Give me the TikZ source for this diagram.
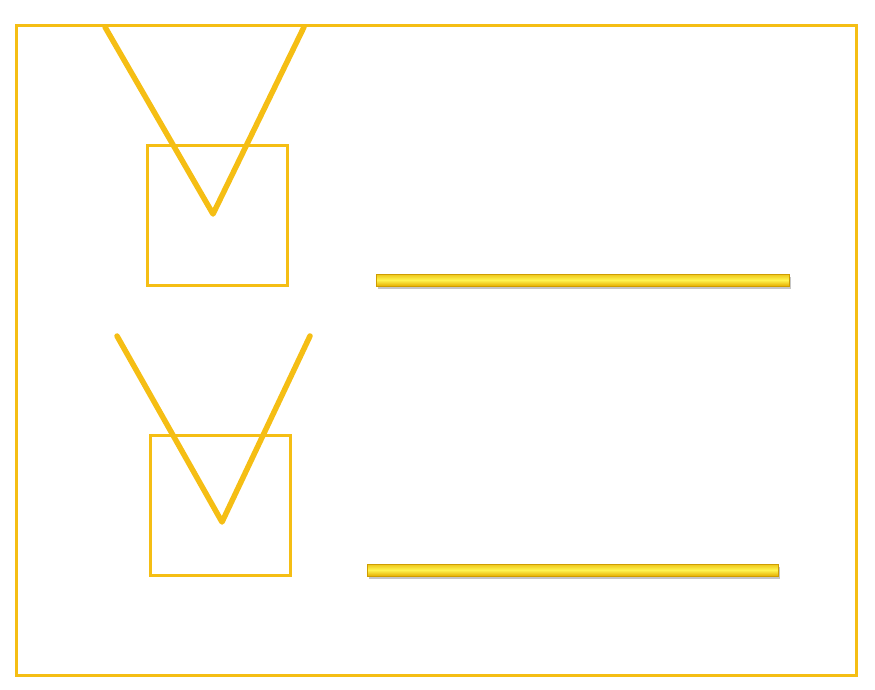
\documentclass[tikz,border=0pt]{standalone}
\usetikzlibrary{shadows}
\definecolor{checkgold}{RGB}{245,190,20}
\definecolor{barlight}{RGB}{255,245,80}
\definecolor{bardark}{RGB}{230,175,0}
\tikzset{
  checkbox/.style={draw=checkgold,line width=3pt,minimum width=140pt,minimum height=140pt,inner sep=0pt},
  tick/.style={draw=checkgold,line width=5.5pt,line join=round,line cap=round},
  answerbar/.style={top color=bardark!70!barlight,bottom color=bardark,middle color=barlight,
    draw=bardark!90!black,line width=0.4pt,minimum height=12pt,inner sep=0pt,
    drop shadow={shadow xshift=1.5pt,shadow yshift=-2.5pt,opacity=0.45}}
}
\begin{document}
\begin{tikzpicture}[x=1pt,y=-1pt]
\useasboundingbox (0,0) rectangle (875,689);
\node[draw=checkgold,line width=3pt,minimum width=840pt,minimum height=650pt,inner sep=0pt] (frame) at (436,350) {};

\node[checkbox] (box1) at (217,215) {};
\node[checkbox] (box2) at (220,505) {};

\coordinate (tick1a) at (105,27);
\coordinate (tick1b) at (213,214);
\coordinate (tick1c) at (304,27);
\draw[tick] (tick1a) -- (tick1b) -- (tick1c);

\coordinate (tick2a) at (117,336);
\coordinate (tick2b) at (222,522);
\coordinate (tick2c) at (310,336);
\draw[tick] (tick2a) -- (tick2b) -- (tick2c);

\node[answerbar,minimum width=413pt] (bar1) at (582.5,280) {};
\node[answerbar,minimum width=411pt] (bar2) at (572.5,570) {};
\end{tikzpicture}
\end{document}
